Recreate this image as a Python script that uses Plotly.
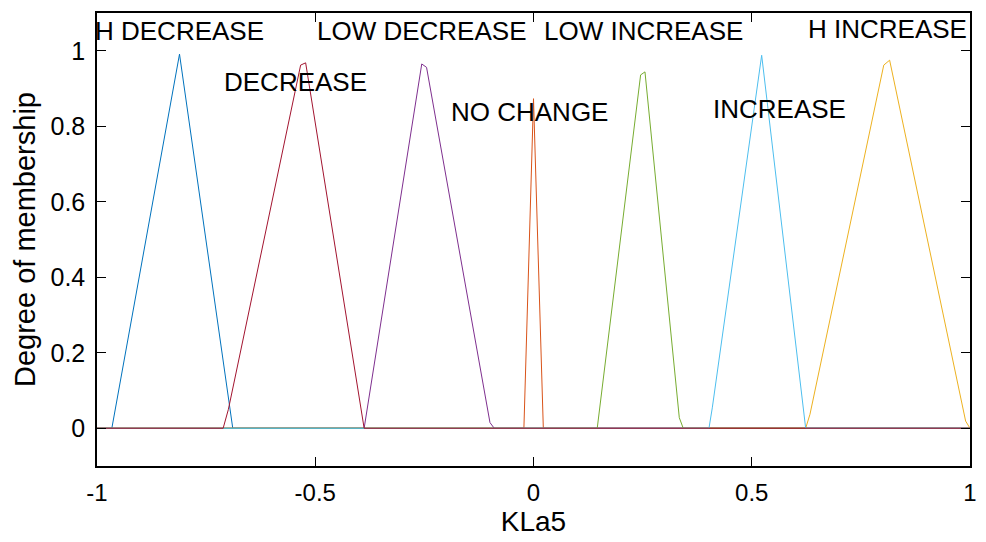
import plotly.graph_objects as go

# ---- data ----
mf_names = ["H DECREASE", "NO CHANGE", "H INCREASE", "LOW DECREASE",
            "LOW INCREASE", "INCREASE", "DECREASE"]

h_decrease_x = [-1.0, -0.966, -0.811, -0.689, 1.0]
h_decrease_y = [0.0, 0.0, 0.991, 0.0, 0.0]

no_change_x = [-1.0, -0.022, 0.0, 0.0225, 1.0]
no_change_y = [0.0, 0.0, 0.873, 0.0, 0.0]

h_increase_x = [-1.0, 0.6235, 0.6334, 0.8024, 0.8159, 0.990, 1.0]
h_increase_y = [0.0, 0.0, 0.037, 0.962, 0.975, 0.019, 0.0]

low_decrease_x = [-1.0, -0.388, -0.256, -0.245, -0.0997, -0.090, 1.0]
low_decrease_y = [0.0, 0.0, 0.965, 0.956, 0.015, 0.0, 0.0]

low_increase_x = [-1.0, 0.146, 0.2454, 0.2554, 0.334, 0.343, 1.0]
low_increase_y = [0.0, 0.0, 0.936, 0.944, 0.028, 0.0, 0.0]

increase_x = [-1.0, 0.402, 0.4096, 0.5227, 0.6235, 1.0]
increase_y = [0.0, 0.0, 0.054, 0.988, 0.0, 0.0]

decrease_x = [-1.0, -0.711, -0.699, -0.5335, -0.522, -0.388, 1.0]
decrease_y = [0.0, 0.0, 0.05, 0.962, 0.968, 0.0, 0.0]

label_x = [-0.81, -0.0103, 0.81, -0.255, 0.253, 0.5625, -0.546]
label_y = [1.052, 0.839, 1.058, 1.052, 1.052, 0.847, 0.918]

x_ticks = [-1, -0.5, 0, 0.5, 1]
x_tick_text = ["-1", "-0.5", "0", "0.5", "1"]
y_ticks = [0, 0.2, 0.4, 0.6, 0.8, 1]
y_tick_text = ["0", "0.2", "0.4", "0.6", "0.8", "1"]

series_x = [h_decrease_x, no_change_x, h_increase_x, low_decrease_x,
            low_increase_x, increase_x, decrease_x]
series_y = [h_decrease_y, no_change_y, h_increase_y, low_decrease_y,
            low_increase_y, increase_y, decrease_y]

colors = ["#0072BD", "#D95319", "#EDB120", "#7E2F8E",
          "#77AC30", "#4DBEEE", "#A2142F"]

fig = go.Figure()
for name, xs, ys, c in zip(mf_names, series_x, series_y, colors):
    fig.add_trace(go.Scatter(x=xs, y=ys, mode="lines", name=name,
                             line=dict(color=c, width=1), hoverinfo="skip"))

for name, lx, ly in zip(mf_names, label_x, label_y):
    fig.add_annotation(x=lx, y=ly, text=name, showarrow=False,
                       xanchor="center", yanchor="middle",
                       font=dict(family="Liberation Sans, Arial, sans-serif",
                                 size=26, color="black"))

# the page body adds an 8px margin, so the figure is sized to fit the window
fig.update_layout(
    width=978, height=534,
    margin=dict(l=89, r=16, t=3, b=76),
    paper_bgcolor="white", plot_bgcolor="white",
    showlegend=False,
    font=dict(family="Liberation Sans, Arial, sans-serif", color="black"),
)
fig.update_xaxes(range=[-1, 1], tickvals=x_ticks, ticktext=x_tick_text,
                 ticks="inside", ticklen=9, tickcolor="black", tickwidth=1,
                 showline=True, linecolor="black", linewidth=1.5, mirror="allticks",
                 showgrid=False, zeroline=False, ticklabelstandoff=4,
                 tickfont=dict(size=24),
                 title=dict(text="KLa5", font=dict(size=28), standoff=7))
fig.update_yaxes(range=[-0.1, 1.1], tickvals=y_ticks, ticktext=y_tick_text,
                 ticks="inside", ticklen=9, tickcolor="black", tickwidth=1,
                 showline=True, linecolor="black", linewidth=1.5, mirror="allticks",
                 showgrid=False, zeroline=False, ticklabelstandoff=5,
                 tickfont=dict(size=25),
                 title=dict(text="Degree of membership", font=dict(size=29), standoff=6))

fig.write_html("out.html")
